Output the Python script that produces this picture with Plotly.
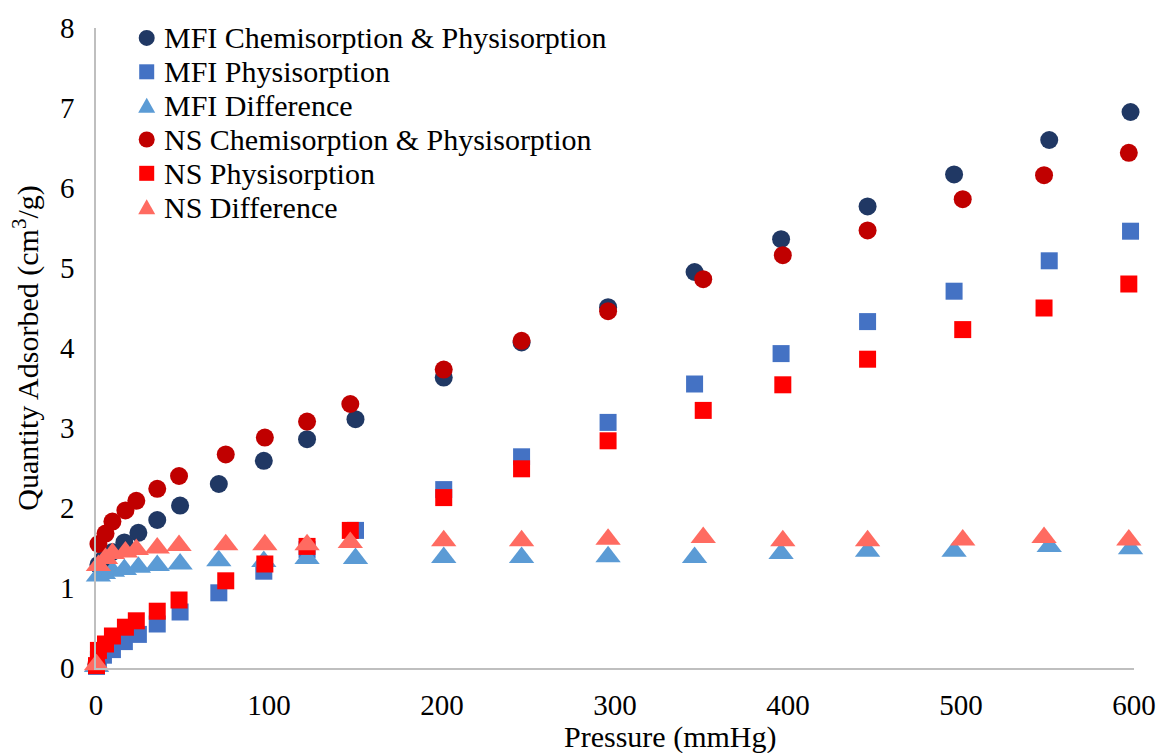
import plotly.graph_objects as go

# Adsorption isotherm data (pressure in mmHg, quantity in cm3/g)
mfi_pressure = [0.3, 1.4, 4.3, 9.5, 16.4, 24.5, 35.4, 48.6, 71, 97, 122, 150,
                201, 246, 296, 346, 396, 446, 496, 551, 598]
mfi_chem_phys = [0.04, 1.29, 1.36, 1.45, 1.57, 1.69, 1.85, 2.03, 2.30, 2.59, 2.86, 3.11,
                 3.63, 4.07, 4.51, 4.95, 5.36, 5.77, 6.17, 6.60, 6.95]
mfi_phys = [0.02, 0.11, 0.16, 0.23, 0.33, 0.42, 0.55, 0.70, 0.94, 1.21, 1.48, 1.72,
            2.23, 2.64, 3.07, 3.55, 3.93, 4.33, 4.71, 5.09, 5.46]
mfi_diff = [0.02, 1.15, 1.18, 1.21, 1.23, 1.26, 1.28, 1.30, 1.34, 1.33, 1.37, 1.37,
            1.38, 1.38, 1.39, 1.38, 1.43, 1.46, 1.46, 1.52, 1.49]

ns_pressure = [0.3, 1.4, 5.5, 9.5, 17, 23.3, 35.4, 48, 75, 97.6, 122, 147,
               201, 246, 296, 351, 397, 446, 501, 548, 597]
ns_chem_phys = [0.05, 1.55, 1.68, 1.83, 1.97, 2.09, 2.24, 2.40, 2.67, 2.88, 3.08, 3.30,
                3.73, 4.09, 4.46, 4.86, 5.16, 5.47, 5.86, 6.16, 6.44]
ns_phys = [0.03, 0.22, 0.30, 0.40, 0.51, 0.59, 0.71, 0.85, 1.09, 1.30, 1.52, 1.72,
           2.13, 2.49, 2.84, 3.22, 3.54, 3.86, 4.23, 4.50, 4.80]
ns_diff = [0.04, 1.28, 1.37, 1.43, 1.45, 1.48, 1.50, 1.53, 1.54, 1.54, 1.54, 1.57,
           1.59, 1.59, 1.61, 1.63, 1.59, 1.59, 1.60, 1.63, 1.60]

FONT = "Liberation Serif, Times New Roman, serif"
W, H = 1168, 753
ML, MR, MT, MB = 96, 28, 25, 85
PW, PH = W - ML - MR, H - MT - MB

series = [
    ("MFI Chemisorption & Physisorption", mfi_pressure, mfi_chem_phys, "circle", 18, "#203864"),
    ("MFI Physisorption", mfi_pressure, mfi_phys, "square", 17, "#4472C4"),
    ("MFI Difference", mfi_pressure, mfi_diff, "triangle-up", 22, "#5B9BD5"),
    ("NS Chemisorption & Physisorption", ns_pressure, ns_chem_phys, "circle", 18, "#C00000"),
    ("NS Physisorption", ns_pressure, ns_phys, "square", 17, "#FF0000"),
    ("NS Difference", ns_pressure, ns_diff, "triangle-up", 22, "#FF6B61"),
]

fig = go.Figure()
for name, x, y, symbol, size, color in series:
    fig.add_trace(go.Scatter(
        x=x, y=y, name=name, mode="markers", cliponaxis=False, showlegend=False,
        marker=dict(symbol=symbol, size=size, color=color, line=dict(width=0)),
    ))


def px_x(px):
    return (px - ML) / PW


def px_y(py):
    return (H - MB - py) / PH


# Key in the upper-left corner: one glyph and one label per series
key_glyph_x, key_text_x, key_top, key_step = 147, 162, 35, 34
glyph_paths = {
    "circle": None,
    "square": "M -7.5,-7.5 L 7.5,-7.5 L 7.5,7.5 L -7.5,7.5 Z",
    "triangle-up": "M -8.5,-7 L 8.5,-7 L 0,8 Z",
}
shapes, annotations = [], []
for i, (name, _, _, symbol, _, color) in enumerate(series):
    row_y = key_top + i * key_step
    common = dict(xref="paper", yref="paper", xsizemode="pixel", ysizemode="pixel",
                  xanchor=px_x(key_glyph_x), yanchor=px_y(row_y),
                  fillcolor=color, line=dict(width=0), layer="above")
    if symbol == "circle":
        shapes.append(dict(type="circle", x0=-8, x1=8, y0=-8, y1=8, **common))
    else:
        shapes.append(dict(type="path", path=glyph_paths[symbol], **common))
    annotations.append(dict(
        text=name, xref="paper", yref="paper", x=px_x(key_text_x), y=px_y(row_y),
        xanchor="left", yanchor="middle", showarrow=False,
        font=dict(family=FONT, size=30, color="#000000"),
    ))

annotations.append(dict(
    text="Pressure (mmHg)", xref="paper", yref="paper",
    x=px_x(673), y=px_y(737), xanchor="center", yanchor="middle",
    showarrow=False, font=dict(family=FONT, size=30, color="#000000"),
))

fig.update_layout(
    width=W, height=H,
    margin=dict(l=ML, r=MR, t=MT, b=MB),
    paper_bgcolor="white", plot_bgcolor="white",
    font=dict(family=FONT, size=28, color="#000000"),
    showlegend=False,
    shapes=shapes,
    annotations=annotations,
    xaxis=dict(
        range=[0, 600], dtick=100, showgrid=False, zeroline=False,
        showline=True, linecolor="#BFBFBF", linewidth=1.5,
        ticks="", ticklabelstandoff=10,
        tickfont=dict(family=FONT, size=29, color="#000000"),
    ),
    yaxis=dict(
        range=[0, 8], dtick=1, showgrid=False, zeroline=False,
        showline=True, linecolor="#BFBFBF", linewidth=1.5,
        ticks="", ticklabelstandoff=14,
        tickfont=dict(family=FONT, size=29, color="#000000"),
        title=dict(text="Quantity Adsorbed (cm<sup>3</sup>/g)",
                   font=dict(family=FONT, size=30, color="#000000"), standoff=12),
    ),
)

fig.write_html("out.html")
